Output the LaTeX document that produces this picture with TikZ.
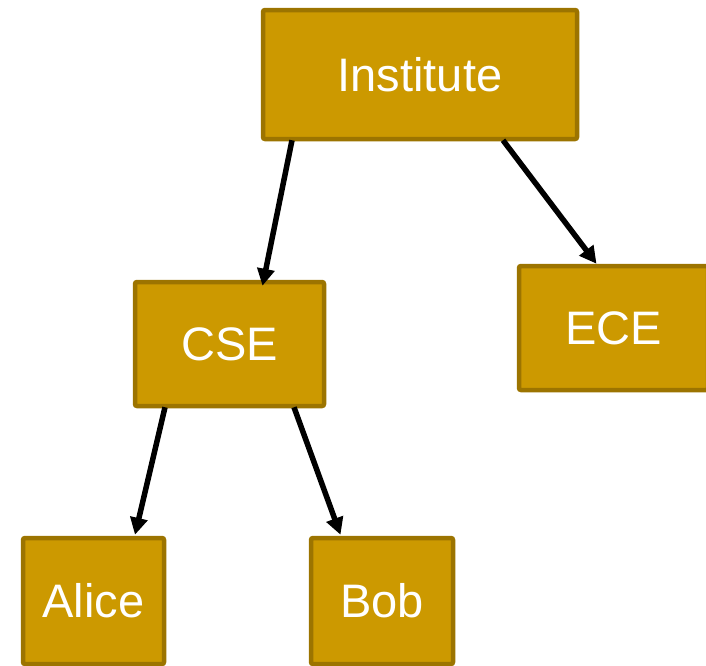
\documentclass[tikz,border=0pt]{standalone}
\usepackage{fontspec}
\setmainfont{Liberation Sans}
\usetikzlibrary{arrows.meta,calc}
\definecolor{boxfill}{HTML}{CC9900}
\definecolor{boxline}{HTML}{9C7400}
\tikzset{
  orgbox/.style={draw=boxline, fill=boxfill, line width=4.5pt, rounded corners=2pt,
    inner sep=0pt, text=white, font=\fontsize{47}{47}\selectfont},
  arr/.style={draw=black, line width=5.5pt, -{Triangle[length=17pt,width=17pt]}}
}
\begin{document}
\begin{tikzpicture}[x=1pt,y=-1pt]
\useasboundingbox (0,0) rectangle (706,665);
\clip (0,0) rectangle (706,665);
\node[orgbox, minimum width=314pt, minimum height=129pt] (inst) at (420,74.5) {Institute};
\node[orgbox, minimum width=189pt, minimum height=124pt] (cse) at (229.5,344) {CSE};
\node[orgbox, minimum width=189pt, minimum height=124pt] (ece) at (613.5,328) {ECE};
\node[orgbox, minimum width=141pt, minimum height=126pt] (alice) at (93.5,601) {Alice};
\node[orgbox, minimum width=142pt, minimum height=126pt] (bob) at (382,601) {Bob};
\draw[arr] ($(inst.south)+(-128,-1)$) -- ($(cse.north)+(33,6)$);
\draw[arr] ($(inst.south)+(83,-1)$) -- ($(ece.north)+(-17,0)$);
\draw[arr] ($(cse.south)+(-64.5,-1)$) -- ($(alice.north)+(41.5,-1)$);
\draw[arr] ($(cse.south)+(64.5,-1)$) -- ($(bob.north)+(-41.5,-1)$);
\end{tikzpicture}
\end{document}
